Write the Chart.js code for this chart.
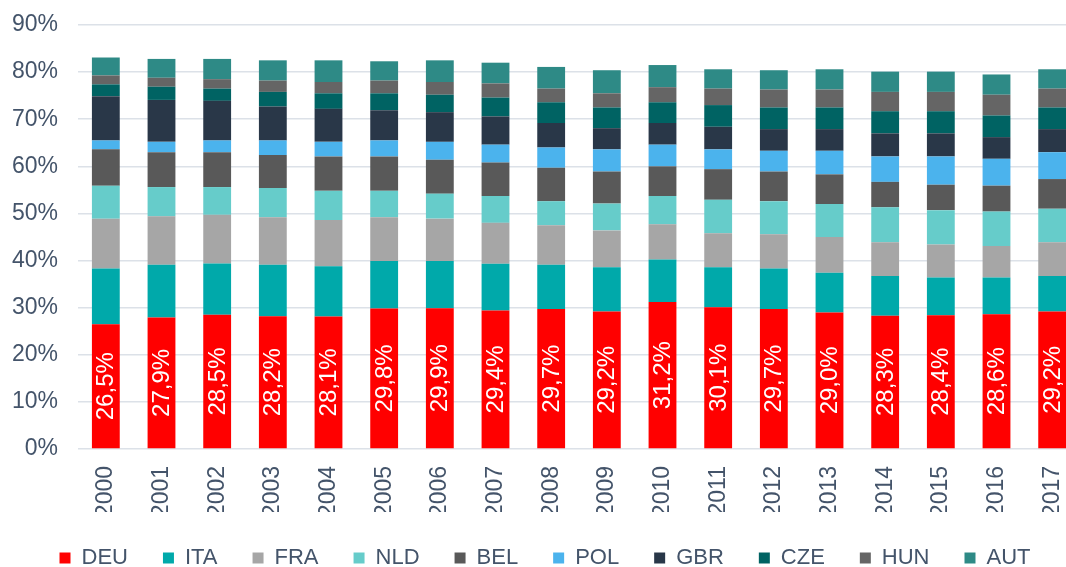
<!DOCTYPE html>
<html>
<head>
<meta charset="utf-8">
<script src="https://cdn.jsdelivr.net/npm/chart.js@4"></script>
<style>
  html, body { margin: 0; padding: 0; background: #fff; overflow: hidden; }
  #wrap { width: 1092px; height: 579px; }
</style>
</head>
<body>
<div id="wrap"><canvas id="chart"></canvas></div>
<script>
// Shares per country, in percent, 2000-2017
const years = ["2000","2001","2002","2003","2004","2005","2006","2007","2008","2009",
               "2010","2011","2012","2013","2014","2015","2016","2017"];

const DEU = [26.5, 27.9, 28.5, 28.2, 28.1, 29.8, 29.9, 29.4, 29.7, 29.2, 31.2, 30.1, 29.7, 29.0, 28.3, 28.4, 28.6, 29.2];
const ITA = [11.8, 11.2, 10.9, 10.9, 10.7, 10.1, 10.0, 9.9, 9.4, 9.4, 9.0, 8.5, 8.6, 8.4, 8.4, 8.0, 7.8, 7.5];
const FRA = [10.6, 10.3, 10.3, 10.1, 9.8, 9.3, 9.0, 8.7, 8.4, 7.8, 7.5, 7.2, 7.3, 7.6, 7.2, 7.0, 6.7, 7.2];
const NLD = [7.0, 6.2, 5.9, 6.2, 6.2, 5.6, 5.3, 5.7, 5.1, 5.7, 6.0, 7.1, 7.0, 7.0, 7.4, 7.3, 7.3, 7.1];
const BEL = [7.7, 7.4, 7.4, 7.0, 7.3, 7.3, 7.2, 7.1, 7.1, 6.8, 6.3, 6.5, 6.3, 6.3, 5.4, 5.4, 5.5, 6.3];
const POL = [1.9, 2.2, 2.5, 3.1, 3.1, 3.4, 3.8, 3.8, 4.3, 4.7, 4.6, 4.2, 4.4, 5.0, 5.4, 6.0, 5.7, 5.7];
const GBR = [9.4, 8.9, 8.4, 7.2, 7.0, 6.4, 6.3, 6.0, 5.2, 4.5, 4.6, 4.8, 4.6, 4.6, 4.9, 4.9, 4.6, 4.9];
const CZE = [2.5, 2.8, 2.6, 3.1, 3.3, 3.6, 3.7, 4.0, 4.4, 4.4, 4.4, 4.6, 4.6, 4.6, 4.7, 4.7, 4.6, 4.6];
const HUN = [1.9, 1.9, 2.0, 2.4, 2.4, 2.7, 2.7, 3.0, 2.9, 3.0, 3.2, 3.5, 3.8, 3.8, 4.1, 4.1, 4.4, 4.0];
const AUT = [3.8, 4.0, 4.3, 4.3, 4.6, 4.1, 4.6, 4.4, 4.6, 4.9, 4.7, 4.1, 4.1, 4.3, 4.3, 4.3, 4.3, 4.1];

const yTicks = [0, 10, 20, 30, 40, 50, 60, 70, 80, 90];

const textColor = "#44546A";
const font = "'Liberation Sans', Arial, sans-serif";

// white rotated value labels inside the DEU bars
const deuLabels = {
    id: "deuLabels",
    afterDatasetsDraw(chart) {
        const ctx = chart.ctx;
        const meta = chart.getDatasetMeta(0);
        ctx.save();
        ctx.fillStyle = "#ffffff";
        ctx.font = "24px " + font;
        ctx.textAlign = "center";
        ctx.textBaseline = "middle";
        meta.data.forEach((bar, i) => {
            const txt = DEU[i].toFixed(1).replace(".", ",") + "%";
            ctx.save();
            ctx.translate(bar.x, (bar.y + bar.base) / 2);
            ctx.rotate(-Math.PI / 2);
            ctx.fillText(txt, 0, 1);
            ctx.restore();
        });
        ctx.restore();
    }
};

const series = [
    ["DEU", DEU, "#FF0000"],
    ["ITA", ITA, "#00A9AA"],
    ["FRA", FRA, "#A6A6A6"],
    ["NLD", NLD, "#66CCCA"],
    ["BEL", BEL, "#595959"],
    ["POL", POL, "#4BB3ED"],
    ["GBR", GBR, "#293748"],
    ["CZE", CZE, "#006363"],
    ["HUN", HUN, "#656565"],
    ["AUT", AUT, "#2E8A86"]
];

new Chart(document.getElementById("chart"), {
    type: "bar",
    data: {
        labels: years,
        datasets: series.map(s => ({
            label: s[0],
            data: s[1],
            backgroundColor: s[2],
            borderWidth: 0,
            barPercentage: 0.5,
            categoryPercentage: 1
        }))
    },
    options: {
        responsive: true,
        maintainAspectRatio: false,
        animation: false,
        layout: { padding: { left: 10, right: 12, top: 25, bottom: 0 } },
        plugins: {
            tooltip: { enabled: false },
            legend: {
                position: "bottom",
                labels: {
                    boxWidth: 11,
                    boxHeight: 11,
                    padding: 35,
                    color: textColor,
                    font: { family: font, size: 22 }
                }
            }
        },
        scales: {
            x: {
                stacked: true,
                grid: { display: false },
                border: { display: false },
                afterFit: axis => {
                    axis.height = 63;
                    axis.paddingLeft = 0;
                    axis.paddingRight = 0;
                },
                ticks: {
                    color: textColor,
                    font: { family: font, size: 23 },
                    minRotation: 90,
                    maxRotation: 90,
                    padding: 9
                }
            },
            y: {
                stacked: true,
                min: 0,
                max: 90,
                afterBuildTicks: axis => { axis.ticks = yTicks.map(v => ({ value: v })); },
                afterFit: axis => {
                    axis.width = 68;
                    axis.paddingTop = 0;
                    axis.paddingBottom = 0;
                },
                grid: { color: "#DCE1E8", lineWidth: 1.5, drawTicks: false },
                border: { display: false },
                ticks: {
                    color: textColor,
                    font: { family: font, size: 23 },
                    padding: 20,
                    callback: v => v + "%"
                }
            }
        }
    },
    plugins: [deuLabels]
});
</script>
</body>
</html>
